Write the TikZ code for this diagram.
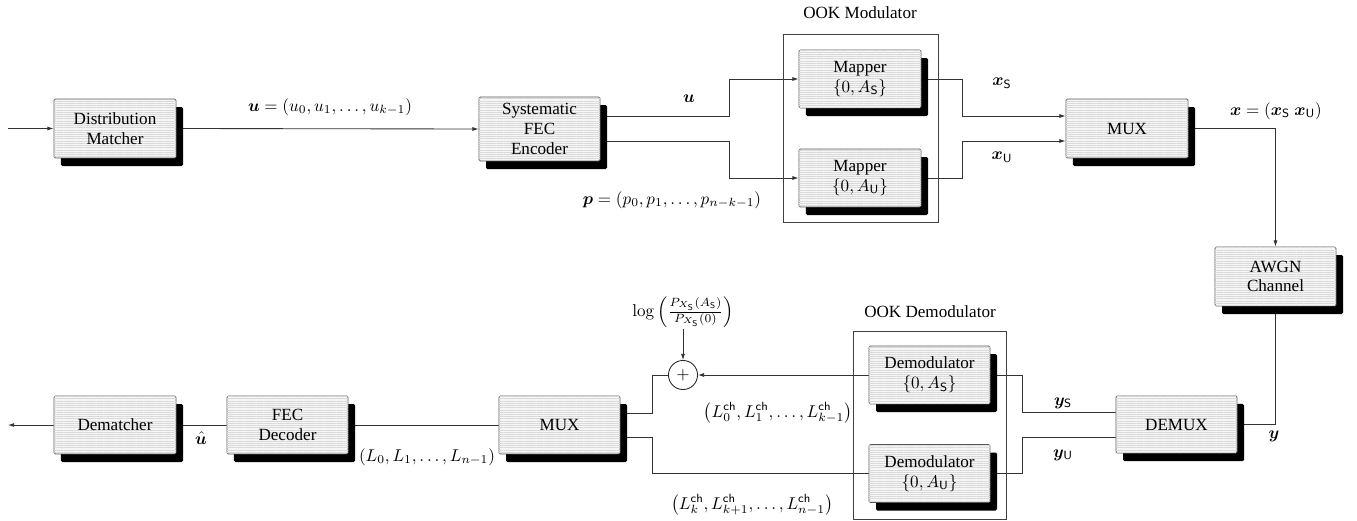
\documentclass[tikz,border=0pt]{standalone}
\usepackage[no-math]{fontspec}
\setmainfont{Liberation Serif}
\usepackage{amsmath,bm}
\usetikzlibrary{arrows.meta,shadows,patterns.meta,backgrounds,calc}

\tikzset{
  blk/.style={draw=black!65, line width=0.5pt, rounded corners=0.8pt, align=center,
    inner sep=1pt, minimum width=71.4pt, minimum height=34.5pt,
    drop shadow={shadow xshift=4.1pt, shadow yshift=-4.7pt, opacity=1, fill=black},
    fill=gray!8,
    postaction={pattern={Lines[angle=0,distance=1.3pt,line width=0.4pt]}, pattern color=gray!30},
    font=\fontsize{10}{11.5}\selectfont},
  frame/.style={draw=black!75, line width=0.5pt, inner sep=0pt},
  lbl/.style={inner sep=1pt, font=\fontsize{10}{12}\selectfont},
  conn/.style={draw=black!80, line width=0.5pt},
  arr/.style={conn, -{Latex[length=3.6pt,width=2.4pt]}},
  sumnode/.style={circle, draw=black!85, line width=0.5pt, fill=white, minimum size=17pt, inner sep=0pt}
}

\begin{document}
\begin{tikzpicture}[x=0.585pt, y=-0.585pt]
\useasboundingbox (0,0) rectangle (1357,521);

% frames
\node[frame, minimum width=90.7pt, minimum height=110pt] (ookm) at (860.5,128) {};
\node[frame, minimum width=89.5pt, minimum height=110pt] (ookd) at (929.5,425) {};
\node[lbl] (ookmt) at (860,13) {OOK Modulator};
\node[lbl] (ookdt) at (930,312) {OOK Demodulator};

% blocks
\node[blk] (DM) at (115,128.5) {Distribution\\Matcher};
\node[blk, minimum width=70.8pt, minimum height=37.4pt] (ENC) at (539.5,129) {Systematic\\FEC\\Encoder};
\node[blk, minimum height=33.9pt] (MapS) at (860,79) {Mapper\\$\{0, A_{\mathsf{S}}\}$};
\node[blk, minimum height=33.9pt] (MapU) at (860,178) {Mapper\\$\{0, A_{\mathsf{U}}\}$};
\node[blk] (MUX) at (1127,128.5) {MUX};
\node[blk, minimum width=70.8pt] (AWGN) at (1275.5,276.5) {AWGN\\Channel};
\node[blk, minimum width=70.8pt, minimum height=33.4pt] (DEMUX) at (1176.5,424.5) {DEMUX};
\node[blk, minimum width=70.8pt, minimum height=33.9pt] (DemS) at (929.5,375) {Demodulator\\$\{0, A_{\mathsf{S}}\}$};
\node[blk, minimum width=70.8pt, minimum height=33.9pt] (DemU) at (929.5,473.5) {Demodulator\\$\{0, A_{\mathsf{U}}\}$};
\node[sumnode] (sum) at (683,375) {$+$};
\node[blk, minimum width=70.8pt, minimum height=33.9pt] (MUX2) at (559.5,425) {MUX};
\node[blk, minimum width=70.8pt, minimum height=33.9pt] (FECD) at (287.5,425) {FEC\\Decoder};
\node[blk, minimum height=33.9pt] (DMT) at (115,425) {Dematcher};

\coordinate (in) at (8,128.5);
\coordinate (out) at (8,425);

% labels
\node[lbl] (lu) at (330,107) {$\bm{u} = (u_0, u_1, \ldots, u_{k-1})$};
\node[lbl] (lu2) at (689,99) {$\bm{u}$};
\node[lbl] (lp) at (672,200) {$\bm{p} = (p_0, p_1, \ldots, p_{n-k-1})$};
\node[lbl] (lxs) at (1002,83) {$\bm{x}_{\mathsf{S}}$};
\node[lbl] (lxu) at (1002,157) {$\bm{x}_{\mathsf{U}}$};
\node[lbl] (lx) at (1276,111) {$\bm{x} = (\bm{x}_{\mathsf{S}}\ \bm{x}_{\mathsf{U}})$};
\node[lbl] (ly) at (1274,436) {$\bm{y}$};
\node[lbl] (lys) at (1063,403) {$\bm{y}_{\mathsf{S}}$};
\node[lbl] (lyu) at (1063,455) {$\bm{y}_{\mathsf{U}}$};
\node[lbl] (llog) at (683,312) {$\log\left(\frac{P_{X_{\mathsf{S}}}(A_{\mathsf{S}})}{P_{X_{\mathsf{S}}}(0)}\right)$};
\node[lbl] (lL0) at (778,413) {$\left(L_0^{\mathsf{ch}}, L_1^{\mathsf{ch}}, \ldots, L_{k-1}^{\mathsf{ch}}\right)$};
\node[lbl] (lLk) at (752,505) {$\left(L_k^{\mathsf{ch}}, L_{k+1}^{\mathsf{ch}}, \ldots, L_{n-1}^{\mathsf{ch}}\right)$};
\node[lbl] (lL) at (427,457) {$(L_0, L_1, \ldots, L_{n-1})$};
\node[lbl] (luh) at (201,438) {$\hat{\bm{u}}$};

% connectors
\begin{pgfonlayer}{background}
\draw[arr] (in) -- (DM.west);
\draw[arr] (DM.east) -- (ENC.west);
\draw[arr] ($(ENC.east)+(0,-12.5)$) -| ($(MapS.west)+(-69,0)$) -- (MapS.west);
\draw[arr] ($(ENC.east)+(0,12.5)$) -| ($(MapU.west)+(-69,0)$) -- (MapU.west);
\draw[arr] (MapS.east) -| ($(MUX.west)+(-103,-12.5)$) -- ($(MUX.west)+(0,-12.5)$);
\draw[arr] (MapU.east) -| ($(MUX.west)+(-103,12.5)$) -- ($(MUX.west)+(0,12.5)$);
\draw[arr] (MUX.east) -| (AWGN.north);
\draw[arr] (AWGN.south) |- (DEMUX.east);
\draw[arr] ($(DEMUX.west)+(0,-12.5)$) -| ($(DemS.east)+(32,0)$) -- (DemS.east);
\draw[arr] ($(DEMUX.west)+(0,12.5)$) -| ($(DemU.east)+(32,0)$) -- (DemU.east);
\draw[arr] (DemS.west) -- (sum.east);
\draw[arr] (llog.south) -- (sum.north);
\draw[arr] (sum.west) -| ($(MUX2.east)+(32,-12)$) -- ($(MUX2.east)+(0,-12)$);
\draw[arr] (DemU.west) -| ($(MUX2.east)+(32,12)$) -- ($(MUX2.east)+(0,12)$);
\draw[arr] (MUX2.west) -- (FECD.east);
\draw[arr] (FECD.west) -- (DMT.east);
\draw[arr] (DMT.west) -- (out);
\end{pgfonlayer}
\end{tikzpicture}
\end{document}
